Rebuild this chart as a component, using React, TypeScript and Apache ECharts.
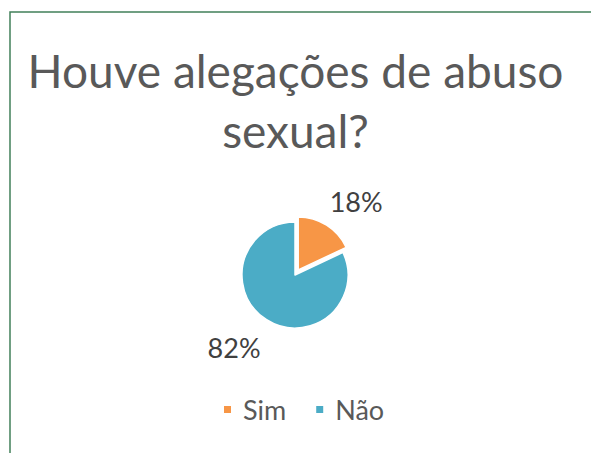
import React, { useEffect, useRef } from "react";
import * as echarts from "echarts";

const titleText = "Houve alegações de abuso\nsexual?";
const categories = ["Sim", "Não"];
const values = [18, 82];
const colors = ["#F79646", "#4BACC6"];

export default function App() {
  const ref = useRef<HTMLDivElement>(null);
  useEffect(() => {
    if (!ref.current) return;
    const chart = echarts.init(ref.current, null, { renderer: "svg" });
    const font = "Lato, 'Open Sans', sans-serif";
    const labelShift = [
      { dx: -10, dy: -11 },
      { dx: 7, dy: 15 },
    ];
    chart.setOption({
      animation: false,
      backgroundColor: "#ffffff",
      title: {
        text: titleText,
        left: "center",
        top: 35,
        textStyle: {
          fontFamily: font,
          fontSize: 46,
          fontWeight: "normal",
          color: "#595959",
          lineHeight: 60,
        },
      },
      graphic: [
        {
          type: "rect",
          shape: { x: 10, y: 12, width: 700, height: 600 },
          style: { fill: "none", stroke: "#41805A", lineWidth: 1.5 },
          silent: true,
        },
      ],
      legend: {
        data: categories,
        left: 217,
        top: 391,
        icon: "rect",
        itemWidth: 9,
        itemHeight: 9,
        itemGap: 28,
        textStyle: {
          fontFamily: font,
          fontSize: 27,
          color: "#595959",
          padding: [0, 0, 0, 6],
        },
        selectedMode: false,
      },
      series: [
        {
          type: "pie",
          center: [295, 275],
          radius: 53,
          startAngle: 90,
          clockwise: true,
          selectedMode: "single",
          selectedOffset: 6,
          itemStyle: { borderColor: "#ffffff", borderWidth: 1.5 },
          label: {
            show: true,
            position: "outside",
            formatter: "{d}%",
            fontFamily: font,
            fontSize: 27,
            color: "#404040",
          },
          labelLine: { show: false, length: 15, length2: 0 },
          labelLayout: (p: any) => labelShift[p.dataIndex],
          data: categories.map((c, i) => ({
            name: c,
            value: values[i],
            selected: i === 0,
            itemStyle: { color: colors[i] },
          })),
        },
      ],
    });
    return () => chart.dispose();
  }, []);
  return (
    <div
      ref={ref}
      style={{ position: "fixed", left: 0, top: 0, width: 591, height: 453 }}
    />
  );
}
